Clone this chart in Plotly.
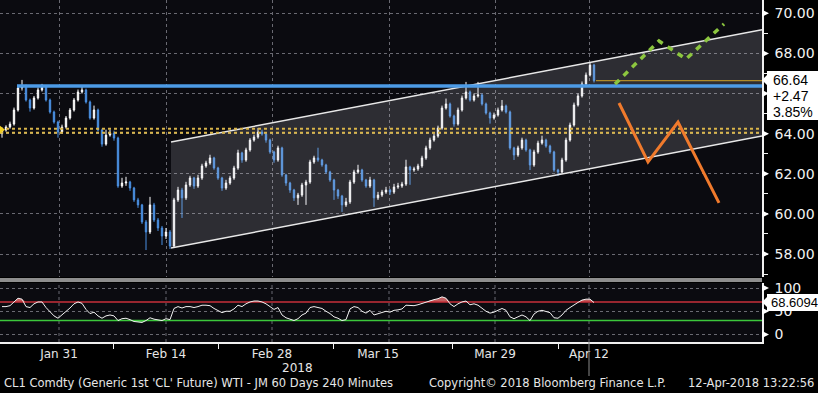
import plotly.graph_objects as go
import numpy as np

# ---------------- data ----------------
bars = list(range(149))
opens = [64.00,64.18,64.33,64.48,65.18,66.28,66.38,65.68,65.28,65.78,
         66.18,66.33,65.68,65.08,64.58,64.08,64.33,64.78,65.18,65.68,
         66.08,66.18,65.58,64.78,65.18,64.18,63.48,63.93,64.03,63.78,
         61.39,61.54,61.59,61.29,60.70,60.45,59.60,59.10,60.45,59.70,
         59.30,58.90,59.10,58.40,60.70,61.19,60.80,61.44,61.79,61.39,
         61.79,62.39,62.54,62.79,62.29,61.79,61.29,61.54,61.79,62.29,
         63.04,62.69,63.19,63.68,63.83,64.08,63.98,63.68,63.09,62.69,
         63.29,61.94,61.54,61.19,60.80,60.94,61.44,61.59,62.59,62.79,
         62.69,62.44,62.09,61.69,61.19,60.89,60.45,60.60,61.59,62.09,
         62.19,61.69,61.39,61.69,60.80,60.94,61.09,61.19,61.09,61.34,
         61.39,61.49,62.34,62.19,62.24,62.39,62.79,63.29,63.68,63.88,
         64.28,65.28,65.48,64.88,64.48,65.18,65.78,66.08,65.68,65.88,
         65.93,65.48,65.03,64.78,64.93,65.18,65.38,65.08,63.29,62.94,
         63.29,63.68,63.19,62.44,63.09,63.53,63.68,63.38,63.09,62.19,
         62.09,62.69,63.68,64.43,65.43,65.88,66.48,66.92,67.42]
closes = [64.18,64.33,64.48,65.18,66.28,66.38,65.68,65.28,65.78,66.18,
          66.33,65.68,65.08,64.58,64.08,64.33,64.78,65.18,65.68,66.08,
          66.18,65.58,64.78,65.18,64.18,63.48,63.93,64.03,63.78,61.39,
          61.54,61.59,61.29,60.70,60.45,59.60,59.10,60.45,59.70,59.30,
          58.90,59.10,58.40,60.70,61.19,60.80,61.44,61.79,61.39,61.79,
          62.39,62.54,62.79,62.29,61.79,61.29,61.54,61.79,62.29,63.04,
          62.69,63.19,63.68,63.83,64.08,63.98,63.68,63.09,62.69,63.29,
          61.94,61.54,61.19,60.80,60.94,61.44,61.59,62.59,62.79,62.69,
          62.44,62.09,61.69,61.19,60.89,60.45,60.60,61.59,62.09,62.19,
          61.69,61.39,61.69,60.80,60.94,61.09,61.19,61.09,61.34,61.39,
          61.49,62.34,62.19,62.24,62.39,62.79,63.29,63.68,63.88,64.28,
          65.28,65.48,64.88,64.48,65.18,65.78,66.08,65.68,65.88,65.93,
          65.48,65.03,64.78,64.93,65.18,65.38,65.08,63.29,62.94,63.29,
          63.68,63.19,62.44,63.09,63.53,63.68,63.38,63.09,62.19,62.09,
          62.69,63.68,64.43,65.43,65.88,66.48,66.92,67.42,66.64]
highs = [64.30,64.42,64.60,65.30,66.40,66.68,66.45,65.75,65.88,66.30,
         66.48,66.40,65.75,65.15,64.65,64.45,64.88,65.28,65.78,66.20,
         66.40,66.25,65.65,65.40,65.25,64.25,64.20,64.20,64.15,63.85,
         61.80,61.85,61.65,61.35,60.80,60.50,59.70,60.85,60.55,59.80,
         59.40,59.30,59.20,60.80,61.35,61.30,61.60,61.90,61.85,61.95,
         62.50,62.65,62.95,62.85,62.35,61.85,61.70,61.90,62.40,63.20,
         63.10,63.30,63.78,63.95,64.28,64.20,64.05,63.75,63.15,63.40,
         63.35,62.00,61.60,61.25,61.05,61.55,61.70,62.70,62.90,63.30,
         62.75,62.50,62.15,61.75,61.25,60.95,60.80,61.70,62.20,62.45,
         62.25,61.75,61.85,61.75,61.10,61.20,61.35,61.25,61.50,61.55,
         61.60,62.70,62.40,62.35,62.50,62.90,63.40,63.80,64.00,64.40,
         65.40,65.75,65.55,64.95,65.30,65.90,66.58,66.15,66.00,66.58,
         66.00,65.55,65.10,65.05,65.30,65.68,65.45,65.15,63.35,63.40,
         63.80,63.75,63.25,63.20,63.65,63.90,63.75,63.45,63.15,62.25,
         62.80,63.80,64.55,65.55,66.00,66.60,67.05,67.57,67.48]
lows = [63.80,64.10,64.25,64.40,65.10,66.15,65.60,65.10,65.20,65.70,
        66.10,65.60,65.00,64.50,63.80,64.00,64.25,64.70,65.10,65.60,
        66.00,65.50,64.70,64.70,64.10,63.35,63.40,63.85,63.65,61.30,
        61.30,61.40,61.15,60.60,60.30,59.50,58.20,59.00,59.60,59.15,
        58.45,58.75,58.25,58.30,60.60,59.80,60.70,61.35,61.25,61.30,
        61.70,62.30,62.45,62.20,61.70,61.15,61.20,61.45,61.70,62.20,
        62.55,62.60,63.10,63.60,63.75,63.90,63.55,63.00,62.55,62.60,
        61.85,61.40,61.05,60.65,60.45,60.85,60.45,61.50,62.50,62.60,
        62.35,62.00,61.60,60.70,60.75,60.10,60.35,60.50,61.50,62.00,
        61.60,61.30,61.30,60.35,60.70,60.85,61.00,60.95,61.00,61.25,
        61.30,61.40,61.45,62.10,62.15,62.30,62.70,63.20,63.60,63.80,
        64.20,65.20,64.80,64.35,64.40,65.10,65.70,65.60,65.60,65.80,
        65.40,64.95,64.50,64.70,64.85,65.10,65.00,63.20,62.69,62.85,
        63.20,63.10,62.19,62.35,63.00,63.45,63.30,63.00,62.10,61.89,
        62.00,62.60,63.60,64.35,65.35,65.80,66.40,66.85,66.55]
rsi = [60,60,62,70,78,76,60,58,66,70,
       70,58,48,40,35,42,50,57,66,70,
       67,54,45,48,40,35,40,42,40,30,
       34,35,32,28,27,26,30,36,33,32,
       30,34,32,56,60,57,60,60,58,60,
       63,63,62,56,52,47,50,50,55,63,
       60,66,70,72,72,70,66,60,54,58,
       42,36,33,30,34,42,46,58,60,58,
       56,50,45,38,35,30,32,55,60,58,
       50,46,52,42,45,48,50,48,52,53,
       55,63,62,62,64,67,70,73,75,77,
       81,78,66,60,66,70,72,64,66,63,
       56,50,46,48,52,56,52,38,34,38,
       42,38,30,44,50,52,50,47,36,35,
       42,52,58,64,69,74,76,76,68.6094]

last_price = 66.64
net_change = "+2.47"
pct_change = "3.85%"

price_ticks = [58, 60, 62, 64, 66, 68, 70]
# 66.00 sits under the last-price box in the original, so its label is not shown
price_tick_text = ["58.00", "60.00", "62.00", "64.00", "", "68.00", "70.00"]
rsi_ticks = [0, 50, 100]
rsi_tick_text = ["0", "50", "100"]
rsi_overbought = 70
rsi_oversold = 30

date_labels = ["Jan 31", "Feb 14", "Feb 28", "Mar 15", "Mar 29", "Apr 12"]
date_label_bars = [14.25, 41, 67.5, 94, 123.25, 146.75]
date_grid_bars = [14.25, 41, 67.5, 96.75, 123.25, 146.75]
week_tick_bars = [27.75, 54, 82.75, 112.5, 139]
year_label = "2018"
year_label_bar = 73.75

resistance_level = 66.38
resistance_start = 3.75
support_levels = [64.05, 64.25]

channel_x = [42.25, 190]
channel_lower = [58.30, 63.88]
channel_upper = [63.58, 69.18]

bull_x = [153.25, 164.25, 171, 180.5]
bull_y = [66.47, 68.62, 67.72, 69.47]
bear_x = [154.25, 161.5, 169, 179.25]
bear_y = [65.53, 62.59, 64.58, 60.55]

footer_left = "CL1 Comdty (Generic 1st 'CL' Future) WTI - JM 60 Days 240 Minutes"
footer_mid = "Copyright\u00a9 2018 Bloomberg Finance L.P."
footer_right = "12-Apr-2018 13:22:56"

# ---------------- geometry ----------------
W, H = 818, 393
ML, MR, MT, MB = 0, 56, 0, 51
PW = W - ML - MR   # 762
PH = H - MT - MB   # 342
X_RANGE = [-0.5, 190]
Y_RANGE = [56.855, 70.663]
R_RANGE = [-16.1, 110.75]


def px(xp):
    return xp / PW


def py(yp):
    return (PH - yp) / PH


AX_FONT = "DejaVu Sans"
BOX_FONT = "Liberation Sans, Arial"
BG = "#0b0b10"
grid_col = "#6a6a72"

fig = go.Figure()

# channel fill
fig.add_trace(go.Scatter(
    x=[channel_x[0], channel_x[1], channel_x[1], channel_x[0], channel_x[0]],
    y=[channel_lower[0], channel_lower[1], channel_upper[1], channel_upper[0], channel_lower[0]],
    fill="toself", fillcolor="rgba(215,215,225,0.17)", mode="lines",
    line=dict(width=0), hoverinfo="skip", showlegend=False, xaxis="x", yaxis="y"))
fig.add_trace(go.Scatter(x=channel_x, y=channel_lower, mode="lines",
                         line=dict(color="#e8e8e8", width=1.5), showlegend=False))
fig.add_trace(go.Scatter(x=channel_x, y=channel_upper, mode="lines",
                         line=dict(color="#e8e8e8", width=1.5), showlegend=False))

# candles
fig.add_trace(go.Candlestick(
    x=bars, open=opens, high=highs, low=lows, close=closes,
    increasing=dict(line=dict(color="#ffffff", width=1), fillcolor="#f4f4f4"),
    decreasing=dict(line=dict(color="#4a90e2", width=1), fillcolor="#4a90e2"),
    whiskerwidth=0, showlegend=False, xaxis="x", yaxis="y"))

# support band (dotted yellow)
for lvl in support_levels:
    fig.add_trace(go.Scatter(x=[X_RANGE[0], X_RANGE[1]], y=[lvl, lvl], mode="lines",
                             line=dict(color="#d9b54a", width=2, dash="dot"), showlegend=False))
# resistance (blue)
fig.add_trace(go.Scatter(x=[resistance_start, X_RANGE[1]], y=[resistance_level, resistance_level],
                         mode="lines", line=dict(color="#4d9be6", width=3.5), showlegend=False))
# last price line
fig.add_trace(go.Scatter(x=[bars[-1] + 0.5, X_RANGE[1]], y=[last_price, last_price], mode="lines",
                         line=dict(color="#d4a528", width=1), showlegend=False))
# left marker
fig.add_trace(go.Scatter(x=[X_RANGE[0]], y=[support_levels[1] - 0.05], mode="markers",
                         marker=dict(symbol="triangle-right", size=10, color="#f2d024"),
                         showlegend=False))
# scenario paths
fig.add_trace(go.Scatter(x=bull_x, y=bull_y, mode="lines",
                         line=dict(color="#8cc63f", width=3.5, dash="6px,6px"), showlegend=False))
fig.add_trace(go.Scatter(x=bear_x, y=bear_y, mode="lines",
                         line=dict(color="#f07a2c", width=3), showlegend=False))

# RSI panel
rsi_arr = np.array(rsi, dtype=float)
fig.add_trace(go.Scatter(x=bars, y=[rsi_overbought] * len(bars), mode="lines",
                         line=dict(width=0), showlegend=False, xaxis="x2", yaxis="y2"))
fig.add_trace(go.Scatter(x=bars, y=np.maximum(rsi_arr, rsi_overbought), mode="lines",
                         line=dict(width=0), fill="tonexty", fillcolor="rgba(225,110,110,0.85)",
                         showlegend=False, xaxis="x2", yaxis="y2"))
fig.add_trace(go.Scatter(x=bars, y=[rsi_oversold] * len(bars), mode="lines",
                         line=dict(width=0), showlegend=False, xaxis="x2", yaxis="y2"))
fig.add_trace(go.Scatter(x=bars, y=np.minimum(rsi_arr, rsi_oversold), mode="lines",
                         line=dict(width=0), fill="tonexty", fillcolor="rgba(90,200,90,0.8)",
                         showlegend=False, xaxis="x2", yaxis="y2"))
fig.add_trace(go.Scatter(x=[X_RANGE[0], X_RANGE[1]], y=[rsi_overbought] * 2, mode="lines",
                         line=dict(color="#c8303a", width=1.5), showlegend=False, xaxis="x2", yaxis="y2"))
fig.add_trace(go.Scatter(x=[X_RANGE[0], X_RANGE[1]], y=[rsi_oversold] * 2, mode="lines",
                         line=dict(color="#3cc83c", width=1.5), showlegend=False, xaxis="x2", yaxis="y2"))
fig.add_trace(go.Scatter(x=bars, y=rsi, mode="lines",
                         line=dict(color="#f2f2f2", width=1), showlegend=False, xaxis="x2", yaxis="y2"))

# ---------------- shapes ----------------
shapes = []
# vertical grid in the RSI panel
for g in date_grid_bars:
    shapes.append(dict(type="line", xref="x2", yref="paper", x0=g, x1=g, y0=0, y1=py(283),
                       line=dict(color=grid_col, width=1, dash="dot"), layer="below"))
# separator band
shapes.append(dict(type="rect", xref="paper", yref="paper", x0=0, x1=1, y0=py(282), y1=py(278),
                   fillcolor="#8e8e8e", line=dict(width=0), layer="above"))
# arrow markers on the axes
ph = 3.5 / 20.06
for v in price_ticks:
    shapes.append(dict(type="path", xref="paper", yref="y",
                       path=f"M {px(762)},{v + ph} L {px(769)},{v} L {px(762)},{v - ph} Z",
                       fillcolor="#ffffff", line=dict(width=0), layer="above"))
rh = 3.5 / 0.465
for v in rsi_ticks:
    shapes.append(dict(type="path", xref="paper", yref="y2",
                       path=f"M {px(762)},{v + rh} L {px(769)},{v} L {px(762)},{v - rh} Z",
                       fillcolor="#ffffff", line=dict(width=0), layer="above"))


def box_path(top, bottom, tip):
    pts = [(767, top), (818, top), (818, bottom), (767, bottom), (767, tip + 5), (762, tip), (767, tip - 5)]
    s = "M " + " L ".join(f"{px(a)},{py(b)}" for a, b in pts) + " Z"
    return s


shapes.append(dict(type="path", xref="paper", yref="paper", path=box_path(71, 120, 80),
                   fillcolor="#ffffff", line=dict(width=0), layer="above"))
shapes.append(dict(type="path", xref="paper", yref="paper", path=box_path(294, 311, 302),
                   fillcolor="#ffffff", line=dict(width=0), layer="above"))
# current-time marker below axis
shapes.append(dict(type="line", xref="x2", yref="paper", x0=date_grid_bars[-1], x1=date_grid_bars[-1],
                   y0=0, y1=py(376), line=dict(color="#8a8a8a", width=1), layer="above"))

# ---------------- annotations ----------------
ann = []
for i, t in enumerate([f"{last_price:.2f}", net_change, pct_change]):
    ann.append(dict(xref="paper", yref="paper", x=px(771), y=py(80 + 16 * i), text=t,
                    xanchor="left", yanchor="middle", showarrow=False,
                    font=dict(family=BOX_FONT, size=14, color="#000000")))
ann.append(dict(xref="paper", yref="paper", x=px(769), y=py(302.5), text=f"{rsi[-1]:.4f}",
                xanchor="left", yanchor="middle", showarrow=False,
                font=dict(family=BOX_FONT, size=13, color="#000000")))
ann.append(dict(xref="x2", yref="paper", x=year_label_bar, y=py(368), text=year_label,
                xanchor="center", yanchor="middle", showarrow=False,
                font=dict(family=AX_FONT, size=12, color="#e6e6e6")))
ann.append(dict(xref="paper", yref="paper", x=px(2), y=py(383.5), text=footer_left,
                xanchor="left", yanchor="middle", showarrow=False,
                font=dict(family=AX_FONT, size=11.5, color="#e6e6e6")))
ann.append(dict(xref="paper", yref="paper", x=px(427), y=py(383.5), text=footer_mid,
                xanchor="left", yanchor="middle", showarrow=False,
                font=dict(family=AX_FONT, size=11.5, color="#e6e6e6")))
ann.append(dict(xref="paper", yref="paper", x=px(816), y=py(383.5), text=footer_right,
                xanchor="right", yanchor="middle", showarrow=False,
                font=dict(family=AX_FONT, size=11.5, color="#e6e6e6")))

fig.update_layout(
    width=W, height=H, margin=dict(l=ML, r=MR, t=MT, b=MB, autoexpand=False),
    paper_bgcolor="#000000", plot_bgcolor=BG, showlegend=False,
    hovermode=False, boxgap=0.5,
    xaxis=dict(domain=[0, 1], range=X_RANGE, anchor="y", tickmode="array", tickvals=date_grid_bars,
               showticklabels=False, ticks="", showgrid=True, gridcolor=grid_col, griddash="dot",
               gridwidth=1, zeroline=False, showline=False, rangeslider=dict(visible=False),
               fixedrange=True, automargin=False),
    xaxis2=dict(domain=[0, 1], range=X_RANGE, anchor="y2", matches="x", tickmode="array",
                tickvals=date_label_bars, ticktext=date_labels, ticks="", automargin=False,
                tickfont=dict(family=AX_FONT, size=12, color="#e6e6e6"),
                showgrid=False, zeroline=False, showline=True, linecolor="#f0f0f0", linewidth=1.5,
                minor=dict(tickmode="array", tickvals=week_tick_bars, ticks="outside", ticklen=5,
                           tickcolor="#f0f0f0", tickwidth=1, showgrid=False)),
    yaxis=dict(domain=[0.19, 1], range=Y_RANGE, side="right", anchor="x", tickmode="array",
               tickvals=price_ticks, ticktext=price_tick_text, ticks="", ticklabelstandoff=8,
               tickfont=dict(family=AX_FONT, size=14, color="#f2f2f2"), automargin=False,
               showgrid=True, gridcolor=grid_col, griddash="dot", gridwidth=1,
               zeroline=False, showline=True, linecolor="#f0f0f0", linewidth=1.5,
               minor=dict(dtick=1, ticks="outside", ticklen=4, tickcolor="#f0f0f0", showgrid=False)),
    yaxis2=dict(domain=[0, 0.1725], range=R_RANGE, side="right", anchor="x2", tickmode="array",
                tickvals=rsi_ticks, ticktext=rsi_tick_text, ticks="", ticklabelstandoff=8,
                tickfont=dict(family=AX_FONT, size=14, color="#f2f2f2"), automargin=False,
                showgrid=True, gridcolor=grid_col, griddash="dot", gridwidth=1,
                zeroline=False, showline=True, linecolor="#f0f0f0", linewidth=1.5),
    shapes=shapes, annotations=ann,
)

fig.write_html("out.html", config={"displayModeBar": False},
               post_script="document.body.style.margin='0';document.body.style.padding='0';"
                           "document.body.style.background='#000';")
